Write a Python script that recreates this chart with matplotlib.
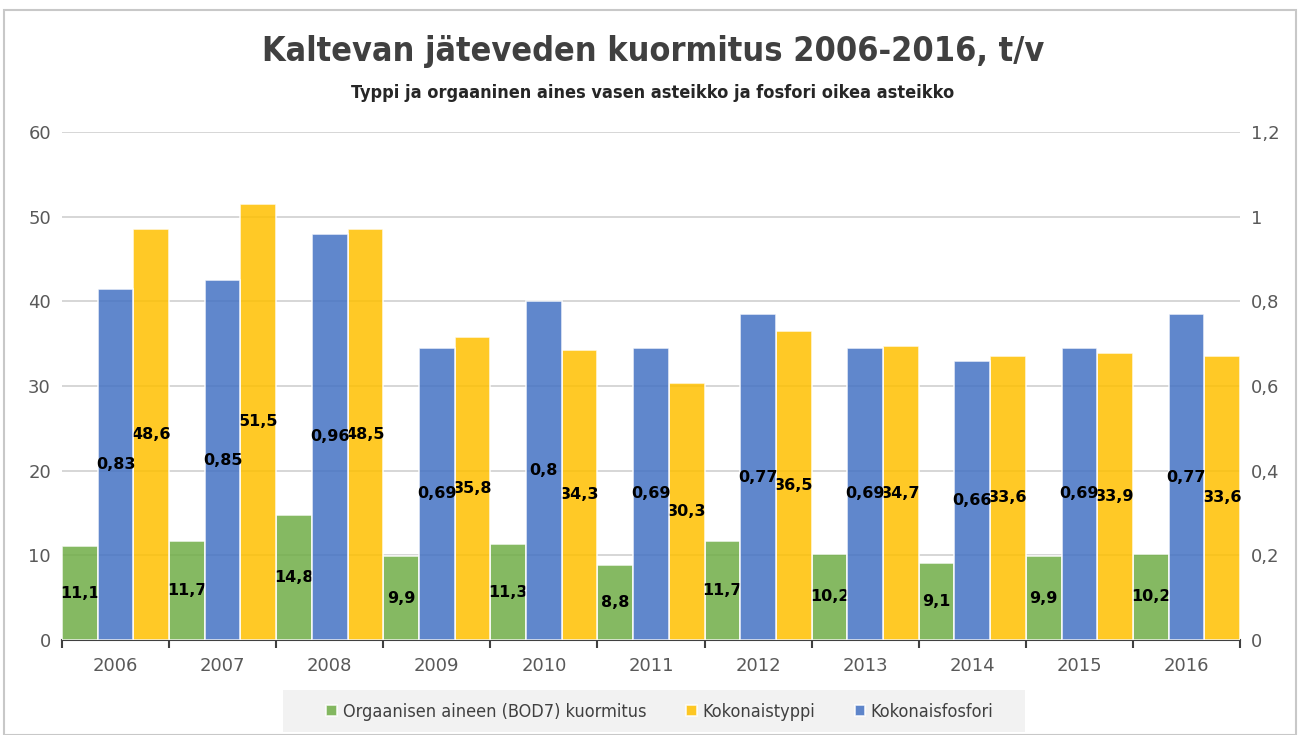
import matplotlib.pyplot as plt
import numpy as np
from matplotlib.patches import Rectangle

years = ['2006', '2007', '2008', '2009', '2010', '2011', '2012', '2013', '2014', '2015', '2016']
bod7 = [11.1, 11.7, 14.8, 9.9, 11.3, 8.8, 11.7, 10.2, 9.1, 9.9, 10.2]
typpi = [48.6, 51.5, 48.5, 35.8, 34.3, 30.3, 36.5, 34.7, 33.6, 33.9, 33.6]
fosfori = [0.83, 0.85, 0.96, 0.69, 0.8, 0.69, 0.77, 0.69, 0.66, 0.69, 0.77]

c_green = '#70AD47'
c_yellow = '#FFC000'
c_blue = '#4472C4'

def fi(v):
    s = ('%g' % v).replace('.', ',')
    return s

fig = plt.figure(figsize=(13.06, 7.35), dpi=100)
ax = fig.add_axes([62 / 1306, 1 - 640 / 735, (1240 - 62) / 1306, (640 - 132) / 735])
ax2 = ax.twinx()

x = np.arange(len(years))
w = 1 / 3
b1 = ax.bar(x - w, bod7, w, color=c_green, alpha=0.85, edgecolor='white', linewidth=1.2, zorder=3)
b3 = ax.bar(x + w, typpi, w, color=c_yellow, alpha=0.85, edgecolor='white', linewidth=1.2, zorder=3)
b2 = ax2.bar(x, fosfori, w, color=c_blue, alpha=0.85, edgecolor='white', linewidth=1.2, zorder=3)

ax.set_ylim(0, 60)
ax2.set_ylim(0, 1.2)
ax.set_xlim(-0.5, len(years) - 0.5)
ax.set_yticks(range(0, 61, 10))
ax2.set_yticks(np.arange(0, 1.21, 0.2))
ax2.set_yticklabels([fi(round(v, 1)) for v in np.arange(0, 1.21, 0.2)])
ax.yaxis.grid(True, color='#d0d0d0', linewidth=1.2, zorder=0)
ax.set_axisbelow(True)

for a in (ax, ax2):
    for s in ('top', 'left', 'right', 'bottom'):
        a.spines[s].set_visible(False)
    a.tick_params(axis='y', length=0, labelsize=13, labelcolor='#595959', pad=8)

ax.spines['bottom'].set_visible(True)
ax.spines['bottom'].set_color('#404040')
ax.spines['bottom'].set_linewidth(1.5)
ax.set_xticks(x)
ax.set_xticklabels(years)
ax.set_xticks(np.arange(-0.5, len(years), 1), minor=True)
ax.tick_params(axis='x', which='major', length=0, labelsize=13, labelcolor='#595959', pad=12)
ax.tick_params(axis='x', which='minor', length=6, width=1.5, color='#404040')

for i in range(len(years)):
    ax.text(x[i] - w, bod7[i] / 2, fi(bod7[i]), ha='center', va='center',
            fontsize=11.5, fontweight='bold', zorder=5)
    ax.text(x[i] + w, typpi[i] / 2, fi(typpi[i]), ha='center', va='center',
            fontsize=11.5, fontweight='bold', zorder=5)
    ax2.text(x[i], fosfori[i] / 2, fi(fosfori[i]), ha='center', va='center',
             fontsize=11.5, fontweight='bold', zorder=5)

fig.text(0.5, 1 - 52 / 735, 'Kaltevan jäteveden kuormitus 2006-2016, t/v', ha='center', va='center',
         fontsize=24.5, fontweight='bold', fontstretch='condensed', color='#404040')
fig.text(0.5, 1 - 93 / 735, 'Typpi ja orgaaninen aines vasen asteikko ja fosfori oikea asteikko',
         ha='center', va='center', fontsize=13, fontweight='bold', fontstretch='condensed', color='#262626')

# legend background and outer frame
fig.patches.append(Rectangle((283 / 1306, 1 - 732 / 735), (1025 - 283) / 1306, 42 / 735,
                             transform=fig.transFigure, facecolor='#f2f2f2', edgecolor='none', zorder=0))
fig.patches.append(Rectangle((4 / 1306, 0), 1292 / 1306, 1 - 10 / 735,
                             transform=fig.transFigure, facecolor='none', edgecolor='#c8c8c8', linewidth=1.5))

leg = fig.legend([b1, b3, b2], ['Orgaanisen aineen (BOD7) kuormitus', 'Kokonaistyppi', 'Kokonaisfosfori'],
                 loc='center', bbox_to_anchor=(660 / 1306, 1 - 712 / 735), ncol=3, frameon=False,
                 prop={'size': 13, 'stretch': 'condensed'}, handlelength=0.6, handleheight=0.6,
                 handletextpad=0.3, columnspacing=2.2, labelcolor='#404040')

fig.savefig('out.png', dpi=100)
